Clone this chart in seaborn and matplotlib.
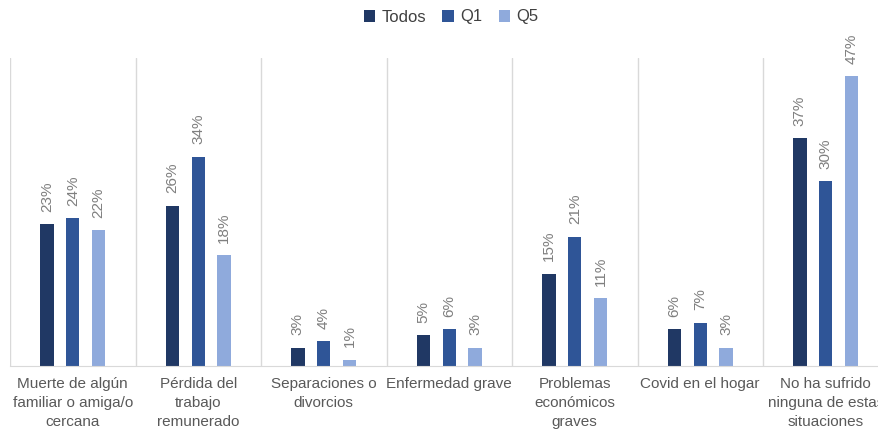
import pandas as pd
import matplotlib.pyplot as plt
import seaborn as sns

categories = [
    'Muerte de algún\nfamiliar o amiga/o\ncercana',
    'Pérdida del\ntrabajo\nremunerado',
    'Separaciones o\ndivorcios',
    'Enfermedad grave',
    'Problemas\neconómicos\ngraves',
    'Covid en el hogar',
    'No ha sufrido\nninguna de estas\nsituaciones',
]
series = ['Todos', 'Q1', 'Q5']
todos = [23, 26, 3, 5, 15, 6, 37]
q1 = [24, 34, 4, 6, 21, 7, 30]
q5 = [22, 18, 1, 3, 11, 3, 47]
colors = ['#203864', '#2F5597', '#8FAADC']

df = pd.DataFrame({
    'cat': categories * 3,
    'grupo': [s for s in series for _ in categories],
    'valor': todos + q1 + q5,
})

sns.set_style('white')
plt.rcParams['font.family'] = ['Liberation Sans Narrow', 'Liberation Sans', 'DejaVu Sans']

fig = plt.figure(figsize=(8.79, 4.34), dpi=100)
ax = fig.add_axes([10 / 879, 68 / 434, 878.5 / 879, 308 / 434])

sns.barplot(data=df, x='cat', y='valor', hue='grupo', palette=colors,
            saturation=1, width=0.62, gap=0.48, ax=ax, legend=True,
            edgecolor='none')

for cont in ax.containers:
    ax.bar_label(cont, labels=[f'{v:.0f}%' for v in cont.datavalues],
                 rotation=90, padding=9, fontsize=11, color='#7F7F7F')

ax.set_ylim(0, 50)
ax.set_xlim(-0.5, len(categories) - 0.5)
for i in range(len(categories) + 1):
    ax.axvline(i - 0.5, color='#D9D9D9', lw=1, zorder=0)

ax.set_yticks([])
ax.set_xlabel('')
ax.set_ylabel('')
for s in ['top', 'right', 'left']:
    ax.spines[s].set_visible(False)
ax.spines['bottom'].set_color('#D9D9D9')
ax.tick_params(axis='x', length=0, pad=8, labelsize=11, labelcolor='#595959')
for t in ax.get_xticklabels():
    t.set_linespacing(1.45)

ax.legend(loc='center', bbox_to_anchor=(451 / 879, 1 - 17 / 434),
          bbox_transform=fig.transFigure, ncol=3, frameon=False,
          handlelength=0.7, handleheight=0.7, handletextpad=0.35,
          columnspacing=1.0, fontsize=12, labelcolor='#404040')

fig.savefig('out.png', dpi=100)
